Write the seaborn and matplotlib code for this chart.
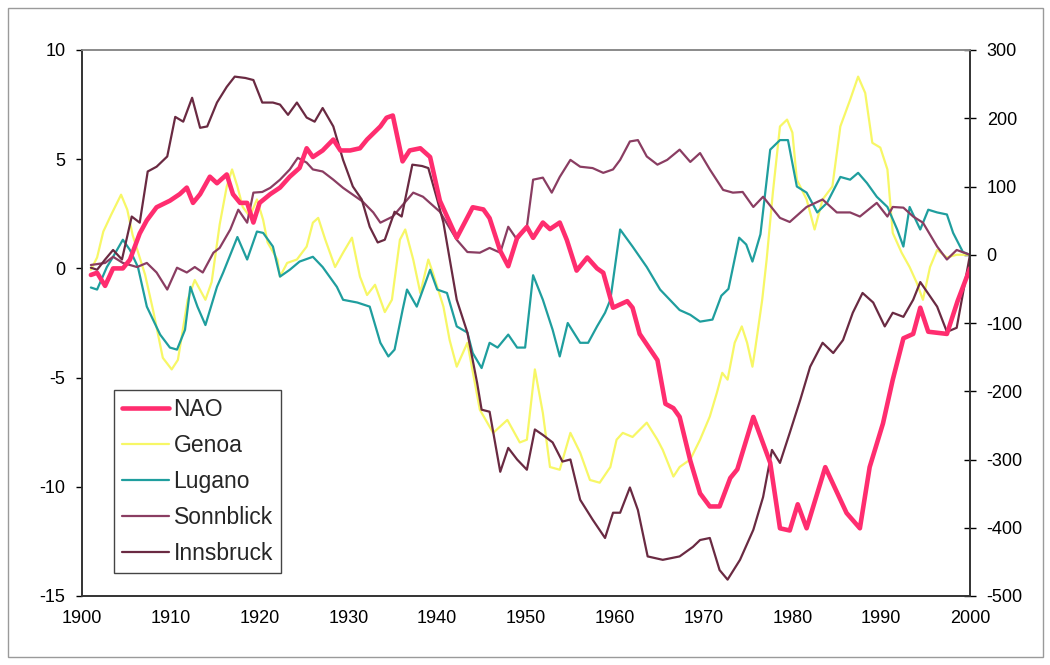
import matplotlib
matplotlib.use("Agg")
import matplotlib.pyplot as plt
import matplotlib.patches as mpatches
import seaborn as sns
import pandas as pd

# ---------------- data ----------------
nao_years = [1901.0, 1901.7, 1902.6, 1903.5, 1904.6, 1905.4, 1906.5, 1907.3, 1908.4, 1909.9,
             1911.0, 1911.8, 1912.5, 1913.3, 1914.4, 1915.2, 1916.3, 1917.0, 1917.8, 1918.6,
             1919.3, 1920.0, 1921.2, 1922.3, 1923.4, 1924.5, 1925.3, 1926.0, 1927.1, 1928.3,
             1929.1, 1930.2, 1931.3, 1932.1, 1933.6, 1934.3, 1935.0, 1936.1, 1936.9, 1938.1,
             1939.2, 1940.3, 1942.2, 1944.0, 1945.2, 1945.9, 1947.1, 1948.0, 1949.0, 1950.1,
             1950.8, 1951.9, 1952.7, 1953.8, 1954.6, 1955.7, 1956.9, 1958.0, 1958.7, 1959.8,
             1961.4, 1962.0, 1962.8, 1964.8, 1965.7, 1966.6, 1967.3, 1968.5, 1969.6, 1970.7,
             1971.8, 1973.0, 1973.8, 1975.6, 1977.5, 1978.6, 1979.7, 1980.6, 1981.6, 1983.7,
             1986.1, 1987.6, 1988.7, 1990.2, 1991.3, 1992.5, 1993.6, 1994.4, 1995.3, 1997.4,
             1998.6, 2000.0]
nao_vals = [-0.3, -0.2, -0.8, 0.0, 0.0, 0.4, 1.6, 2.2, 2.8, 3.1,
            3.4, 3.7, 3.0, 3.4, 4.2, 3.9, 4.3, 3.4, 3.0, 3.0,
            2.1, 3.0, 3.4, 3.7, 4.2, 4.6, 5.5, 5.1, 5.4, 5.9,
            5.4, 5.4, 5.5, 5.9, 6.5, 6.9, 7.0, 4.9, 5.4, 5.5,
            5.1, 3.1, 1.4, 2.8, 2.7, 2.3, 0.8, 0.1, 1.4, 1.9,
            1.4, 2.1, 1.8, 2.1, 1.3, -0.1, 0.5, 0.0, -0.2, -1.8,
            -1.5, -1.8, -3.0, -4.2, -6.2, -6.4, -6.8, -8.8, -10.3, -10.9,
            -10.9, -9.6, -9.2, -6.8, -8.9, -11.9, -12.0, -10.8, -11.9, -9.1,
            -11.2, -11.9, -9.1, -7.1, -5.1, -3.2, -3.0, -1.8, -2.9, -3.0,
            -1.5, 0.0]

genoa_years = [1901.0, 1901.7, 1902.4, 1903.3, 1904.4, 1905.1, 1905.7, 1907.1, 1908.0, 1909.1,
               1910.1, 1910.8, 1911.9, 1912.7, 1913.9, 1914.6, 1915.5, 1916.3, 1916.9, 1917.5,
               1918.1, 1918.9, 1919.7, 1920.4, 1920.9, 1922.0, 1922.3, 1923.1, 1924.2, 1925.3,
               1926.0, 1926.6, 1927.4, 1928.5, 1929.4, 1930.4, 1931.3, 1932.1, 1933.0, 1934.1,
               1934.9, 1935.8, 1936.4, 1937.3, 1938.1, 1939.0, 1939.5, 1940.7, 1941.4, 1942.2,
               1943.4, 1944.8, 1946.3, 1947.9, 1949.3, 1950.1, 1951.0, 1951.9, 1952.7, 1953.8,
               1955.0, 1956.1, 1957.2, 1958.3, 1959.5, 1960.2, 1960.9, 1962.0, 1963.6, 1964.8,
               1965.4, 1966.6, 1967.3, 1968.5, 1969.6, 1970.7, 1971.5, 1972.1, 1972.7, 1973.5,
               1974.3, 1974.9, 1975.5, 1975.8, 1976.6, 1977.1, 1977.8, 1978.6, 1979.4, 1980.0,
               1980.5, 1981.6, 1982.5, 1983.4, 1984.5, 1985.4, 1986.5, 1987.4, 1988.2, 1989.0,
               1989.9, 1990.7, 1991.3, 1992.3, 1993.2, 1994.0, 1994.7, 1995.5, 1996.3, 1997.4,
               1998.5, 2000.0]
genoa_vals = [-22, -4, 34, 59, 88, 66, 29, -29, -81, -151,
              -168, -154, -66, -37, -66, -40, 44, 100, 125, 100,
              70, 56, 81, 51, 18, -7, -32, -12, -7, 12,
              47, 54, 22, -18, 3, 25, -32, -59, -44, -84,
              -66, 22, 37, -7, -56, -7, -26, -76, -125, -164,
              -129, -227, -261, -242, -275, -271, -168, -232, -311, -315,
              -261, -290, -330, -334, -311, -271, -261, -267, -246, -271,
              -286, -325, -311, -300, -271, -237, -202, -173, -183, -129,
              -105, -129, -164, -139, -66, -7, 91, 188, 198, 179,
              110, 81, 37, 81, 100, 188, 227, 261, 237, 164,
              157, 125, 32, 3, -18, -41, -66, -18, 7, -4,
              0, 0]

lugano_years = [1901.0, 1901.7, 1902.8, 1903.5, 1904.6, 1905.4, 1906.3, 1907.3, 1908.8, 1909.9,
                1910.7, 1911.6, 1912.2, 1913.0, 1913.9, 1915.2, 1915.9, 1917.5, 1918.6, 1919.7,
                1920.4, 1921.5, 1922.3, 1923.4, 1924.5, 1926.0, 1927.1, 1928.7, 1929.4, 1931.0,
                1932.4, 1933.6, 1934.5, 1935.2, 1936.1, 1936.6, 1937.7, 1939.2, 1940.0, 1941.1,
                1942.2, 1943.4, 1944.0, 1945.0, 1945.9, 1946.8, 1948.0, 1949.0, 1949.9, 1950.8,
                1951.9, 1953.0, 1953.8, 1954.7, 1956.1, 1957.0, 1958.0, 1958.9, 1959.5, 1960.6,
                1962.0, 1963.6, 1965.1, 1966.2, 1967.3, 1968.5, 1969.6, 1971.0, 1972.0, 1972.8,
                1974.0, 1974.8, 1975.5, 1976.4, 1977.5, 1978.6, 1979.5, 1980.5, 1981.6, 1982.8,
                1983.9, 1985.4, 1986.5, 1987.4, 1988.4, 1989.5, 1990.7, 1991.8, 1992.5, 1993.2,
                1994.4, 1995.3, 1996.3, 1997.4, 1998.1, 1999.2, 2000.0]
lugano_vals = [-48, -51, -18, -3, 22, 7, -18, -76, -117, -136,
               -139, -110, -47, -76, -103, -47, -26, 26, -7, 34,
               32, 12, -32, -22, -10, -3, -18, -47, -66, -70,
               -76, -129, -149, -139, -81, -51, -76, -22, -51, -56,
               -105, -114, -144, -166, -129, -136, -117, -136, -136, -30,
               -66, -110, -149, -100, -129, -129, -105, -85, -66, 37,
               12, -18, -51, -66, -81, -88, -98, -95, -60, -50,
               25, 15, -10, 30, 154, 168, 168, 100, 91, 62,
               76, 114, 110, 120, 105, 85, 70, 37, 12, 70,
               37, 66, 62, 59, 32, 4, 0]

sonnblick_years = [1901.0, 1902.6, 1903.5, 1904.6, 1906.2, 1907.3, 1908.4, 1909.6, 1910.7, 1911.8,
                   1912.7, 1913.6, 1914.8, 1915.5, 1916.7, 1917.6, 1918.6, 1919.3, 1920.3, 1921.2,
                   1922.3, 1923.4, 1924.3, 1925.3, 1926.0, 1927.1, 1928.3, 1929.4, 1930.5, 1931.6,
                   1932.8, 1933.6, 1935.0, 1937.3, 1938.4, 1940.3, 1942.2, 1943.4, 1944.8, 1945.9,
                   1947.1, 1948.0, 1949.0, 1950.1, 1950.8, 1951.9, 1952.9, 1953.8, 1955.0, 1956.1,
                   1957.5, 1958.7, 1959.8, 1960.6, 1961.7, 1962.6, 1963.6, 1964.8, 1965.9, 1967.3,
                   1968.5, 1969.6, 1970.7, 1972.2, 1973.3, 1974.4, 1975.6, 1976.7, 1978.6, 1979.7,
                   1981.6, 1983.4, 1985.0, 1986.5, 1987.6, 1989.5, 1990.7, 1991.3, 1992.5, 1993.6,
                   1994.7, 1996.3, 1997.4, 1998.5, 2000.0]
sonnblick_vals = [-15, -12, -3, -12, -18, -12, -26, -51, -19, -26,
                  -18, -26, 3, 10, 37, 66, 47, 91, 92, 98,
                  110, 125, 142, 135, 125, 122, 110, 98, 88, 78,
                  62, 47, 56, 91, 85, 63, 22, 4, 3, 10,
                  3, 41, 22, 41, 110, 113, 91, 114, 139, 129,
                  127, 120, 125, 139, 166, 168, 144, 132, 139, 154,
                  136, 149, 125, 95, 91, 92, 70, 85, 54, 48,
                  70, 81, 62, 62, 56, 76, 56, 70, 69, 56,
                  47, 12, -7, 7, 0]

innsbruck_years = [1901.0, 1901.7, 1902.6, 1903.5, 1904.5, 1905.6, 1906.5, 1907.4, 1908.4, 1909.6,
                   1910.5, 1911.4, 1912.4, 1913.3, 1914.1, 1915.2, 1916.3, 1917.2, 1918.4, 1919.3,
                   1920.3, 1921.5, 1922.3, 1923.2, 1924.2, 1925.3, 1926.2, 1927.1, 1928.3, 1929.4,
                   1930.5, 1931.5, 1932.4, 1933.3, 1934.1, 1935.2, 1936.0, 1937.2, 1938.3, 1939.0,
                   1940.0, 1940.7, 1942.2, 1943.4, 1944.5, 1945.0, 1945.9, 1947.1, 1948.0, 1949.0,
                   1950.1, 1951.0, 1951.9, 1953.0, 1954.1, 1955.0, 1956.1, 1957.5, 1958.9, 1959.8,
                   1960.6, 1961.7, 1962.6, 1963.7, 1965.4, 1967.3, 1968.8, 1969.6, 1970.7, 1971.8,
                   1972.7, 1974.1, 1975.6, 1976.7, 1977.7, 1978.6, 1979.7, 1980.9, 1982.0, 1983.4,
                   1984.6, 1985.7, 1986.8, 1987.9, 1989.1, 1990.4, 1991.3, 1992.5, 1993.6, 1994.4,
                   1996.3, 1997.4, 1998.5, 2000.0]
innsbruck_vals = [-19, -22, -7, 7, -7, 56, 47, 122, 129, 144,
                  202, 195, 230, 186, 188, 223, 246, 261, 259, 256,
                  223, 223, 220, 205, 223, 201, 195, 215, 188, 139,
                  100, 81, 41, 18, 22, 63, 56, 132, 130, 127,
                  81, 47, -66, -114, -188, -227, -230, -318, -283, -300,
                  -315, -256, -264, -275, -303, -300, -359, -388, -415, -378,
                  -378, -341, -374, -442, -447, -442, -428, -418, -415, -462,
                  -476, -447, -403, -355, -286, -305, -261, -212, -164, -129,
                  -144, -125, -85, -56, -70, -105, -85, -91, -66, -40,
                  -76, -113, -107, 0]

x_ticks = [1900, 1910, 1920, 1930, 1940, 1950, 1960, 1970, 1980, 1990, 2000]
left_ticks = [-15, -10, -5, 0, 5, 10]
right_ticks = [-500, -400, -300, -200, -100, 0, 100, 200, 300]

# ---------------- styling ----------------
sns.set_style("white")
plt.rcParams["font.family"] = ["Liberation Sans", "DejaVu Sans"]
plt.rcParams["axes.unicode_minus"] = False

W, H = 1050, 665
fig = plt.figure(figsize=(W / 100, H / 100), dpi=100)
fig.patch.set_facecolor("white")
# thin frame around the whole picture
fig.patches.append(mpatches.Rectangle((8 / W, 1 - 657 / H), (1043 - 8) / W, (657 - 8) / H,
                                      transform=fig.transFigure, fill=False,
                                      edgecolor="#9a9a9a", linewidth=1.0))

ax = fig.add_axes([82 / W, 1 - 596 / H, 888 / W, 546 / H])
ax2 = ax.twinx()

C_NAO = "#ff2d6f"
C_GEN = "#f7f766"
C_LUG = "#1f9e9e"
C_SON = "#8a3d62"
C_INN = "#6a2a42"

lw = 1.6
sns.lineplot(x=genoa_years, y=genoa_vals, ax=ax2, color=C_GEN, linewidth=lw, estimator=None, label="Genoa")
sns.lineplot(x=lugano_years, y=lugano_vals, ax=ax2, color=C_LUG, linewidth=lw, estimator=None, label="Lugano")
sns.lineplot(x=sonnblick_years, y=sonnblick_vals, ax=ax2, color=C_SON, linewidth=lw, estimator=None, label="Sonnblick")
sns.lineplot(x=innsbruck_years, y=innsbruck_vals, ax=ax2, color=C_INN, linewidth=lw, estimator=None, label="Innsbruck")
sns.lineplot(x=nao_years, y=nao_vals, ax=ax, color=C_NAO, linewidth=3.3, estimator=None, label="NAO")

ax.set_zorder(ax2.get_zorder() + 1)
ax.patch.set_visible(False)

ax.set_xlim(1900, 2000)
ax.set_ylim(-15, 10)
ax2.set_ylim(-500, 300)
ax.set_xticks(x_ticks)
ax.set_yticks(left_ticks)
ax2.set_yticks(right_ticks)
ax.set_xlabel("")
ax.set_ylabel("")
ax2.set_ylabel("")

ax.tick_params(axis="x", direction="out", length=4, width=1, pad=6, labelsize=13, colors="black")
ax.tick_params(axis="y", direction="out", length=4, width=1, pad=8, labelsize=13, colors="black")
ax2.tick_params(axis="y", direction="inout", length=8, width=1, pad=8, labelsize=13, colors="black")

for a in (ax, ax2):
    for s in a.spines.values():
        s.set_color("#333333")
        s.set_linewidth(1.2)
    a.spines["top"].set_color("#8a8a8a")
    a.grid(False)

# legend combining both axes
h1, l1 = ax.get_legend_handles_labels()
h2, l2 = ax2.get_legend_handles_labels()
if ax2.get_legend() is not None:
    ax2.get_legend().remove()
if ax.get_legend() is not None:
    ax.get_legend().remove()
handles = h1 + h2
labels = l1 + l2
leg = ax.legend(handles, labels, loc="lower left", bbox_to_anchor=(0.036, 0.042),
                frameon=True, fancybox=False, edgecolor="#444444", facecolor="white",
                fontsize=16.5, handlelength=2.05, handletextpad=0.2, labelspacing=0.57,
                borderpad=0.35, borderaxespad=0)
leg.get_frame().set_linewidth(1.0)
leg.get_frame().set_alpha(1)

fig.savefig("out.png", dpi=100)
